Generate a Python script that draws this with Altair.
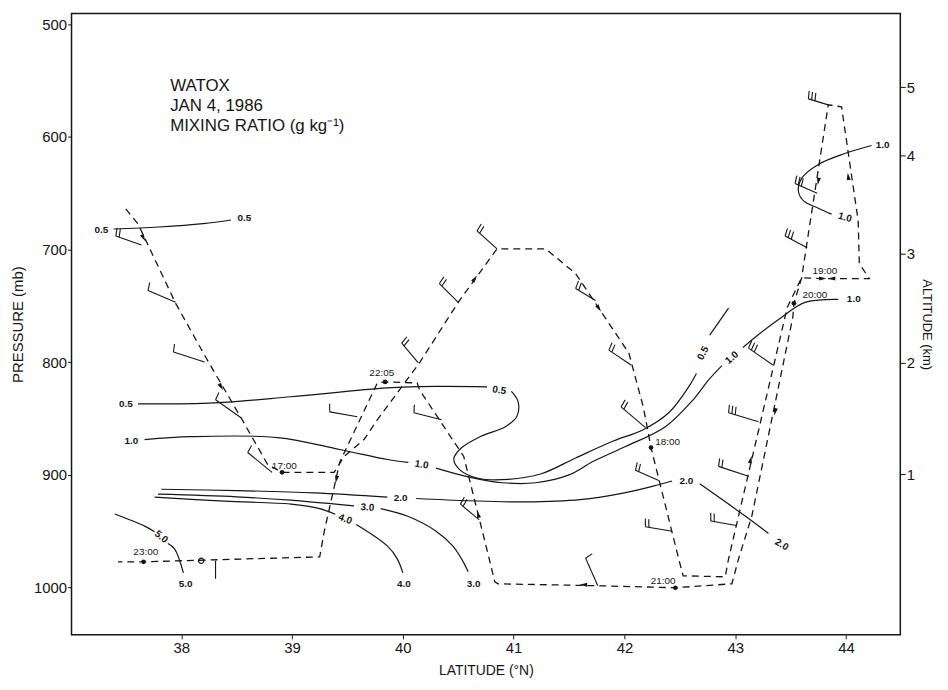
import math
import altair as alt
import pandas as pd

FONT = "Liberation Sans"
INK = "#151515"

# ---------------- flight track (latitude °N, pressure mb), in flight order
track_lat = [37.50, 37.61, 37.95, 38.22, 38.55, 38.78, 38.91, 39.38, 39.47, 39.65, 39.77, 40.15, 40.50,
             40.85, 41.29, 41.56, 42.04, 42.17, 42.21, 42.24, 42.49, 42.53, 42.91, 42.94, 43.03, 43.47,
             43.60, 43.78, 44.21, 44.12, 44.11, 43.96, 43.84, 43.66, 43.60, 43.53, 43.52, 43.15, 43.03,
             42.97, 42.46, 41.74, 40.86, 40.83, 40.78, 40.55, 40.15, 40.13, 39.84, 39.77, 39.43, 39.29,
             39.25, 37.66, 37.43]
track_p = [664.0, 677.3, 747.8, 795.4, 851.1, 890.8, 897.8, 897.8, 883.7, 868.7, 851.1, 800.7, 746.9,
           699.4, 699.4, 721.4, 791.9, 839.7, 859.9, 875.8, 974.6, 989.6, 990.5, 974.6, 936.6, 751.3,
           725.0, 725.8, 725.8, 712.6, 674.7, 573.4, 571.6, 686.2, 725.0, 747.8, 760.1, 936.6, 974.6,
           996.7, 1000.2, 998.4, 996.7, 994.9, 974.6, 883.7, 824.5, 818.4, 817.5, 818.4, 889.0, 950.7,
           972.8, 977.2, 977.2]

# ---------------- mixing ratio isolines (g/kg), one pair of lists per drawn piece
c05_top_lat = [37.39, 37.80, 38.20, 38.45]
c05_top_p = [681.8, 680.0, 677.0, 673.8]
c05_mid_lat = [37.61, 38.30, 38.99, 39.86, 40.30, 40.76]
c05_mid_p = [837.0, 836.1, 830.7, 822.8, 821.5, 821.9]
c05_loop_lat = [40.98, 41.04, 41.03, 40.93, 40.70, 40.53, 40.46, 40.52, 40.68, 40.95, 41.25, 41.56,
                41.90, 42.17, 42.40, 42.58, 42.65]
c05_loop_p = [826.0, 835.0, 848.0, 857.0, 866.0, 876.0, 886.0, 896.0, 903.0, 904.0, 899.0, 885.0,
              870.0, 859.9, 844.9, 821.9, 810.0]
c05_end_lat = [42.77, 42.94]
c05_end_p = [776.0, 752.0]

c10_left_lat = [37.67, 38.09, 38.87, 39.43, 39.86, 40.05]
c10_left_p = [868.7, 866.1, 866.9, 877.5, 886.4, 889.0]
c10_main_lat = [40.30, 40.60, 40.90, 41.20, 41.50, 41.72, 42.01, 42.37, 42.62, 42.76, 42.88]
c10_main_p = [894.0, 902.0, 907.0, 907.0, 900.0, 888.0, 874.9, 857.3, 833.4, 815.7, 803.0]
c10_up_lat = [43.07, 43.18, 43.42, 43.63, 43.93]
c10_up_p = [787.0, 777.8, 760.1, 746.9, 744.3]
c10_top_lat = [44.23, 43.99, 43.75, 43.60, 43.57, 43.62, 43.75, 43.87]
c10_top_p = [607.7, 614.8, 624.5, 636.8, 648.3, 657.1, 663.3, 668.6]

c20_a_lat = [37.82, 38.50, 39.20, 39.86]
c20_a_p = [912.8, 914.0, 916.0, 919.8]
c20_b_lat = [40.12, 40.60, 41.10, 41.60, 42.00, 42.30, 42.43]
c20_b_p = [921.0, 923.0, 924.0, 922.0, 916.0, 909.0, 905.5]
c20_c_lat = [42.68, 43.09, 43.30]
c20_c_p = [908.0, 936.6, 952.0]

c30_a_lat = [37.79, 38.50, 38.99, 39.56]
c30_a_p = [917.2, 919.5, 922.5, 927.5]
c30_b_lat = [39.80, 40.05, 40.30, 40.45, 40.53, 40.59]
c30_b_p = [930.0, 937.0, 950.0, 963.0, 974.6, 986.0]

c40_a_lat = [37.76, 38.39, 38.99, 39.25, 39.39]
c40_a_p = [919.8, 923.4, 926.0, 930.0, 935.0]
c40_b_lat = [39.58, 39.86, 39.95, 40.00]
c40_b_p = [944.0, 963.1, 974.6, 987.0]

c50_a_lat = [37.40, 37.67, 37.76]
c50_a_p = [934.8, 945.5, 950.5]
c50_b_lat = [37.88, 37.94, 38.02]
c50_b_p = [961.0, 965.7, 987.0]

# ---------------- isoline labels
lab_text = ["0.5", "0.5", "0.5", "0.5", "0.5", "1.0", "1.0", "1.0", "1.0", "1.0", "1.0",
            "2.0", "2.0", "2.0", "3.0", "3.0", "4.0", "4.0", "5.0", "5.0"]
lab_lat = [37.28, 38.57, 37.50, 40.87, 42.71, 37.55, 40.17, 42.97, 44.07, 44.33, 43.99,
           39.98, 42.56, 43.42, 39.68, 40.64, 39.48, 40.01, 37.82, 38.04]
lab_p = [682.5, 672.0, 837.5, 825.0, 792.0, 870.0, 891.0, 796.0, 743.5, 607.0, 671.5,
         920.5, 905.5, 962.0, 929.0, 997.0, 939.3, 996.5, 955.0, 997.0]
lab_angle = [0, 0, 0, 8, 298, 0, 10, 320, 0, 0, 15, 0, 0, 30, 5, 0, 20, 0, 40, 0]

# ---------------- times along the track
time_text = ["17:00", "18:00", "19:00", "20:00", "21:00", "22:05", "23:00"]
time_lat = [38.93, 42.39, 43.81, 43.72, 42.35, 39.81, 37.68]
time_p = [892.0, 871.0, 718.8, 740.8, 994.5, 809.7, 968.4]
dot_lat = [38.91, 42.24, 43.53, 42.46, 39.84, 37.66]
dot_p = [897.8, 875.8, 747.8, 1000.2, 817.5, 977.2]
ring_lat = [38.18]
ring_p = [976.3]

# ---------------- direction arrows on the track
arrow_lat = [37.66, 38.36, 39.40, 40.65, 41.77, 43.14, 43.36, 43.75, 44.02, 43.79, 43.87, 41.63, 40.68]
arrow_p = [689.7, 821.9, 904.0, 725.8, 752.2, 886.4, 844.1, 639.5, 635.1, 725.8, 725.8, 997.5, 935.0]
arrow_angle = [152, 150, 192, 35, 146, 13, 192, 189, 352, 90, 270, 270, 346]

# ---------------- wind barbs: outer end, point on track, number of feathers
barb_out_lat = [37.41, 37.70, 37.93, 38.31, 38.60, 39.34, 40.10, 39.99, 40.33, 40.67, 41.56, 41.86,
                41.97, 42.85, 42.94, 43.12, 43.45, 43.54, 43.66, 38.31, 41.65,
                42.10, 42.19, 42.78, 40.52]
barb_out_p = [688.0, 736.4, 791.0, 833.4, 880.2, 844.1, 844.9, 783.1, 730.2, 683.5, 734.6, 789.3,
              839.7, 892.5, 844.9, 787.5, 688.0, 641.3, 566.3, 992.2, 974.0,
              896.0, 946.0, 941.0, 926.0]
barb_base_lat = [37.64, 37.95, 38.21, 38.54, 38.82, 39.59, 40.35, 40.14, 40.50, 40.85, 41.74, 42.06,
                 42.19, 43.12, 43.21, 43.34, 43.65, 43.74, 43.84, 38.31, 41.76,
                 42.31, 42.43, 43.01, 40.69]
barb_base_p = [695.9, 746.9, 799.8, 849.3, 897.8, 848.5, 851.1, 800.7, 746.9, 699.4, 745.2, 802.5,
               858.1, 901.3, 852.9, 802.5, 698.5, 650.0, 571.6, 976.3, 998.4,
               905.0, 950.0, 945.0, 940.0]
barb_feathers = [2, 1, 1, 1, 1, 1, 1, 2, 2, 2, 2, 2, 2, 2, 3, 3, 3, 3, 3, 0, 1,
                 2, 2, 2, 2]

# right-hand altitude axis (km) and the pressure level each tick sits at
alt_km = [1, 2, 3, 4, 5]
alt_level_p = [899.4, 800.7, 703.8, 616.6, 555.8]

title_lines = ["WATOX", "JAN 4, 1986", "MIXING RATIO (g kg\u207b\u00b9)"]
title_lat = [37.90, 37.90, 37.90]
title_p = [554.5, 573.0, 590.5]

# ---------------- tables
LAT_DOM = [37.01, 44.49]
P_DOM = [490.5, 1042.0]
W, H = 835, 626
KX = W / (LAT_DOM[1] - LAT_DOM[0])   # px per degree
KY = H / (P_DOM[1] - P_DOM[0])       # px per mb

track_df = pd.DataFrame({"lat": track_lat, "p": track_p, "i": range(len(track_lat))})

pieces = {
    "c05_top": (c05_top_lat, c05_top_p), "c05_mid": (c05_mid_lat, c05_mid_p),
    "c05_loop": (c05_loop_lat, c05_loop_p), "c05_end": (c05_end_lat, c05_end_p),
    "c10_left": (c10_left_lat, c10_left_p), "c10_main": (c10_main_lat, c10_main_p),
    "c10_up": (c10_up_lat, c10_up_p), "c10_top": (c10_top_lat, c10_top_p),
    "c20_a": (c20_a_lat, c20_a_p), "c20_b": (c20_b_lat, c20_b_p), "c20_c": (c20_c_lat, c20_c_p),
    "c30_a": (c30_a_lat, c30_a_p), "c30_b": (c30_b_lat, c30_b_p),
    "c40_a": (c40_a_lat, c40_a_p), "c40_b": (c40_b_lat, c40_b_p),
    "c50_a": (c50_a_lat, c50_a_p), "c50_b": (c50_b_lat, c50_b_p),
}
rows = []
for name, (la, pp) in pieces.items():
    for i, (a, b) in enumerate(zip(la, pp)):
        rows.append({"seg": name, "i": i, "lat": a, "p": b})
contour_df = pd.DataFrame(rows)

label_df = pd.DataFrame({"t": lab_text, "lat": lab_lat, "p": lab_p, "ang": lab_angle})
time_df = pd.DataFrame({"t": time_text, "lat": time_lat, "p": time_p})
dot_df = pd.DataFrame({"lat": dot_lat, "p": dot_p})
ring_df = pd.DataFrame({"lat": ring_lat, "p": ring_p})
arrow_df = pd.DataFrame({"lat": arrow_lat, "p": arrow_p, "ang": arrow_angle})
title_df = pd.DataFrame({"t": title_lines, "lat": title_lat, "p": title_p})

# wind barbs -> staff + feathers as rule segments
seg_rows = []
for ol, op, bl, bp, n in zip(barb_out_lat, barb_out_p, barb_base_lat, barb_base_p, barb_feathers):
    seg_rows.append({"lat": bl, "p": bp, "lat2": ol, "p2": op})
    ox, oy = ol * KX, op * KY
    bx, by = bl * KX, bp * KY
    dx, dy = ox - bx, oy - by
    L = math.hypot(dx, dy)
    ux, uy = dx / L, dy / L
    nx, ny = -uy, ux
    for k in range(n):
        sx, sy = ox - ux * 3.5 * k, oy - uy * 3.5 * k
        ex, ey = sx + nx * 8 + ux * 1.5, sy + ny * 8 + uy * 1.5
        seg_rows.append({"lat": sx / KX, "p": sy / KY, "lat2": ex / KX, "p2": ey / KY})
barb_df = pd.DataFrame(seg_rows)

# ---------------- encodings
x_scale = alt.Scale(domain=LAT_DOM, nice=False, zero=False)
y_scale = alt.Scale(domain=P_DOM, reverse=True, nice=False, zero=False)
x_axis = alt.Axis(values=[38, 39, 40, 41, 42, 43, 44], format="d", title="LATITUDE (\u00b0N)",
                  grid=False, domain=False, tickSize=4, tickColor=INK, labelColor=INK,
                  labelFont=FONT, labelFontSize=15, labelPadding=2, titleFont=FONT,
                  titleFontSize=14, titleFontWeight="normal", titleColor=INK, titlePadding=8)
y_axis = alt.Axis(values=[500, 600, 700, 800, 900, 1000], format="d", title="PRESSURE (mb)",
                  grid=False, domain=False, tickSize=4, tickColor=INK, labelColor=INK,
                  labelFont=FONT, labelFontSize=15, labelPadding=1, titleFont=FONT,
                  titleFontSize=15, titleFontWeight="normal", titleColor=INK, titlePadding=8)


def X(f="lat"):
    return alt.X(f"{f}:Q", scale=x_scale, axis=x_axis)


def Y(f="p"):
    return alt.Y(f"{f}:Q", scale=y_scale, axis=y_axis)


track = alt.Chart(track_df).mark_line(color=INK, strokeWidth=1.3, strokeDash=[7, 5]).encode(
    x=X(), y=Y(), order="i:Q")

contours = alt.Chart(contour_df).mark_line(color=INK, strokeWidth=1.2, interpolate="catmull-rom").encode(
    x=X(), y=Y(), detail="seg:N", order="i:Q")

barbs = alt.Chart(barb_df).mark_rule(color=INK, strokeWidth=1.1).encode(
    x=X(), y=Y(), x2="lat2:Q", y2="p2:Q")

arrows = alt.Chart(arrow_df).mark_point(
    shape="M0,-1L0.55,1L-0.55,1Z", filled=True, color=INK, size=55, opacity=1).encode(
    x=X(), y=Y(), angle=alt.Angle("ang:Q", scale=None))

dots = alt.Chart(dot_df).mark_point(shape="circle", filled=True, color=INK, size=22, opacity=1).encode(
    x=X(), y=Y())

ring = alt.Chart(ring_df).mark_point(shape="circle", filled=False, color=INK, size=28, strokeWidth=1.2,
                                     opacity=1).encode(x=X(), y=Y())

labels = alt.Chart(label_df).mark_text(font=FONT, fontSize=10, fontWeight="bold", color=INK).encode(
    x=X(), y=Y(), text="t:N", angle=alt.Angle("ang:Q", scale=None))

times = alt.Chart(time_df).mark_text(font=FONT, fontSize=10, color=INK).encode(
    x=X(), y=Y(), text="t:N")

title_txt = alt.Chart(title_df).mark_text(font=FONT, fontSize=17, color=INK, align="left").encode(
    x=X(), y=Y(), text="t:N")

main = alt.layer(contours, track, barbs, arrows, dots, ring, labels, times, title_txt)

right_df = pd.DataFrame({"lat": [40.0], "p": [700.0]})
right = alt.Chart(right_df).mark_point(opacity=0).encode(
    x=X(),
    y=alt.Y("p:Q", scale=y_scale,
            axis=alt.Axis(orient="right", values=alt_level_p, title="ALTITUDE (km)",
                          labelExpr="datum.value > 850 ? '1' : datum.value > 750 ? '2' : datum.value > 660 ? '3' : datum.value > 590 ? '4' : '5'",
                          grid=False, domain=False, tickSize=5, tickColor=INK, labelColor=INK,
                          labelFont=FONT, labelFontSize=15, labelPadding=1, titleFont=FONT,
                          titleFontSize=13, titleFontWeight="normal", titleColor=INK,
                          titlePadding=5)))

chart = alt.layer(main, right).resolve_scale(y="independent").properties(
    width=W, height=H,
    autosize=alt.AutoSizeParams(type="none"),
    padding={"left": 64, "top": 3, "right": 40, "bottom": 45},
    background="white",
).configure_view(stroke=INK, strokeWidth=1.5)

chart.save("out.html", embed_options={"renderer": "svg", "actions": False})
